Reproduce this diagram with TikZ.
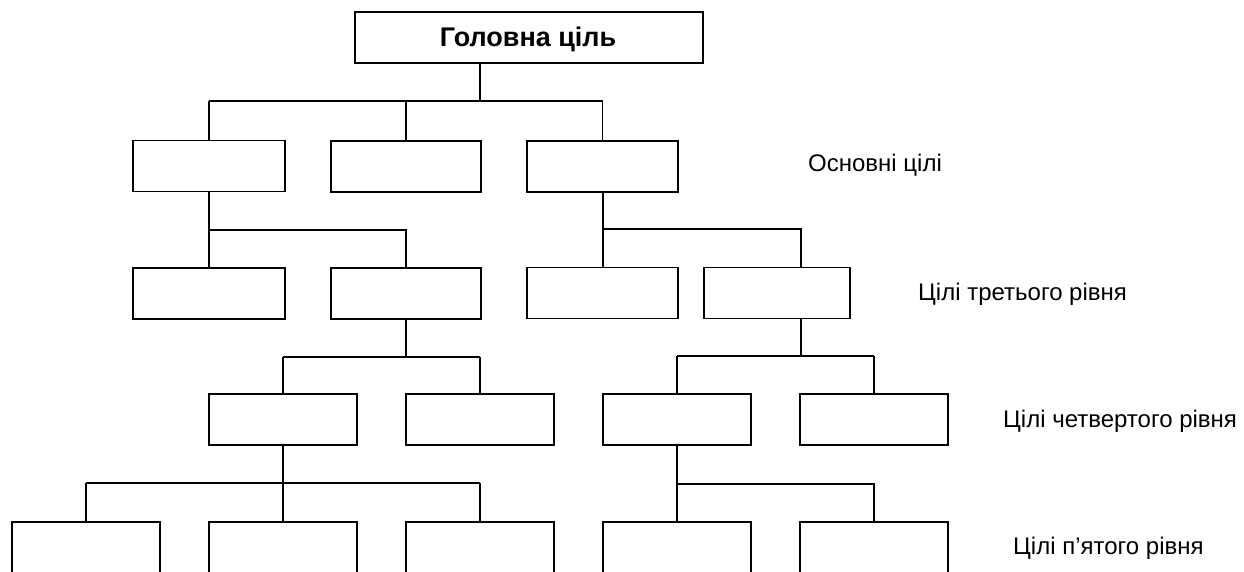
\documentclass[tikz,border=0pt]{standalone}
\usepackage{fontspec}
\setmainfont{Liberation Sans}
\begin{document}
\begin{tikzpicture}[x=1pt,y=-1pt,
  box/.style={draw=black,line width=1.7pt,fill=white,minimum width=148pt,minimum height=51pt,inner sep=0pt},
  conn/.style={draw=black,line width=1.5pt},
  lvl/.style={anchor=base west,inner sep=0pt,font=\fontsize{24}{28}\selectfont}]
\useasboundingbox (0,0) rectangle (1244,572);
% top
\node[box,minimum width=348pt] (top) at (529,37.5) {};
\node[anchor=base,inner sep=0pt,font=\fontsize{27}{32}\selectfont\bfseries] (toptxt) at (528,47) {Головна ціль};
% level 2
\node[box,minimum width=152pt] (a1) at (209,166) {};
\node[box,minimum width=150pt] (a2) at (406,166.5) {};
\node[box,minimum width=151pt] (a3) at (602.5,166.5) {};
% level 3
\node[box,minimum width=152pt] (b1) at (209,293.5) {};
\node[box,minimum width=150pt] (b2) at (406,293.5) {};
\node[box,minimum width=151pt] (b3) at (602.5,293) {};
\node[box,minimum width=146pt] (b4) at (777,293) {};
% level 4
\node[box] (c1) at (283,419.5) {};
\node[box] (c2) at (480,419.5) {};
\node[box] (c3) at (677,419.5) {};
\node[box] (c4) at (874,419.5) {};
% level 5
\node[box] (d1) at (86,547.5) {};
\node[box] (d2) at (283,547.5) {};
\node[box] (d3) at (480,547.5) {};
\node[box] (d4) at (677,547.5) {};
\node[box] (d5) at (874,547.5) {};
% junction coordinates
\coordinate (j0) at (480,101);
\coordinate (j1) at (209,230);
\coordinate (j2) at (603,229);
\coordinate (j3) at (406,357);
\coordinate (j4) at (801,356);
\coordinate (j5) at (283,483);
\coordinate (j6) at (677,484);
% connectors level 1 -> 2
\draw[conn] (top.south -| j0) -- (j0);
\draw[conn] (a1.north |- j0) -- (a3.north |- j0);
\draw[conn] (a1.north |- j0) -- (a1.north);
\draw[conn] (a2.north |- j0) -- (a2.north);
\draw[conn] (a3.north |- j0) -- (a3.north);
% level 2 -> 3
\draw[conn] (a1.south) -- (b1.north);
\draw[conn] (j1) -- (b2.north |- j1) -- (b2.north);
\draw[conn] (a3.south -| j2) -- (b3.north -| j2);
\draw[conn] (j2) -- (801,229) coordinate (j2r) -- (b4.north -| j2r);
% level 3 -> 4
\draw[conn] (b2.south) -- (j3);
\draw[conn] (c1.north |- j3) -- (c2.north |- j3);
\draw[conn] (c1.north |- j3) -- (c1.north);
\draw[conn] (c2.north |- j3) -- (c2.north);
\draw[conn] (b4.south -| j4) -- (j4);
\draw[conn] (c3.north |- j4) -- (c4.north |- j4);
\draw[conn] (c3.north |- j4) -- (c3.north);
\draw[conn] (c4.north |- j4) -- (c4.north);
% level 4 -> 5
\draw[conn] (c1.south) -- (d2.north);
\draw[conn] (d1.north |- j5) -- (d3.north |- j5);
\draw[conn] (d1.north |- j5) -- (d1.north);
\draw[conn] (d3.north |- j5) -- (d3.north);
\draw[conn] (c3.south) -- (d4.north);
\draw[conn] (j6) -- (d5.north |- j6) -- (d5.north);
% labels
\node[lvl] (l2) at (808,172) {Основні цілі};
\node[lvl] (l3) at (918,300) {Цілі третього рівня};
\node[lvl] (l4) at (1003,427) {Цілі четвертого рівня};
\node[lvl] (l5) at (1013,554) {Цілі п’ятого рівня};
\end{tikzpicture}
\end{document}
